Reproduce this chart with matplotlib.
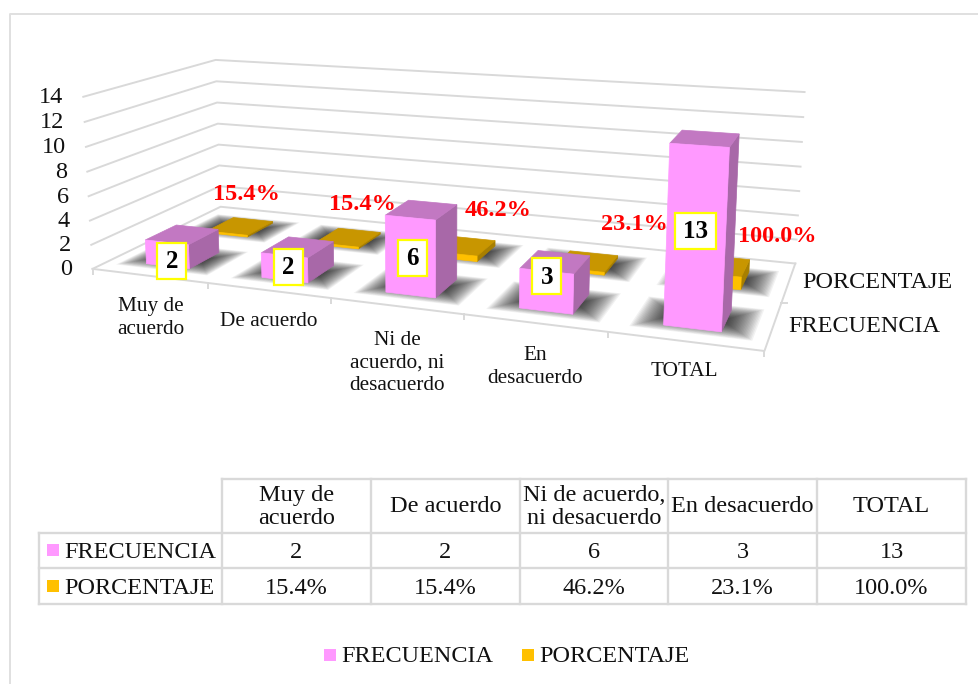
import matplotlib
matplotlib.use('Agg')
import matplotlib.pyplot as plt
from matplotlib.patches import Polygon, Rectangle
import numpy as np

categories = ['Muy de\nacuerdo', 'De acuerdo', 'Ni de\nacuerdo, ni\ndesacuerdo', 'En\ndesacuerdo', 'TOTAL']
table_heads = ['Muy de\nacuerdo', 'De acuerdo', 'Ni de acuerdo,\nni desacuerdo', 'En desacuerdo', 'TOTAL']
series_names = ['FRECUENCIA', 'PORCENTAJE']
frecuencia = [2, 2, 6, 3, 13]
porcentaje = [0.154, 0.154, 0.462, 0.231, 1.0]
y_ticks = [0, 2, 4, 6, 8, 10, 12, 14]

PINK = ['#FF99FF', '#C278C2', '#A868A8']
GOLD = ['#FFC000', '#C89600', '#A87F00']
GRID = '#D9D9D9'
INK = '#111111'
A0, A1 = 0.315, 0.695

plt.rcParams['font.family'] = ['Liberation Serif', 'DejaVu Serif']


def fit_camera():
    # projection from (category, depth, value) to image pixels
    world = [(0, 0, 0), (0, 0, 14), (0, 1, 0), (0, 1, 14), (5, 1, 0), (5, 1, 14), (5, 0, 0), (5, 0, 14)]
    image = [(95, 268), (81, 96), (218, 208), (218, 60), (797, 262), (803, 92), (763, 352), (776, 145)]
    rows = []
    for (a, b, c), (u, v) in zip(world, image):
        rows.append([a, b, c, 1, 0, 0, 0, 0, -u * a, -u * b, -u * c, -u])
        rows.append([0, 0, 0, 0, a, b, c, 1, -v * a, -v * b, -v * c, -v])
    return np.linalg.svd(np.array(rows, dtype=float))[2][-1].reshape(3, 4)


CAM = fit_camera()


def pr(a, b, c=0):
    p = CAM @ np.array([a, b, c, 1.0])
    return p[0] / p[2], p[1] / p[2]


fig = plt.figure(figsize=(9.79, 6.84), dpi=100)
ax = fig.add_axes([0, 0, 1, 1])
ax.set_xlim(0, 979)
ax.set_ylim(684, 0)
ax.axis('off')

# outer frame
ax.plot([10, 10, 979], [684, 14, 14], color='#E0E0E0', lw=1.4)

# walls and floor
for t in y_ticks:
    pts = [pr(0, 0, t), pr(0, 1, t), pr(5, 1, t)]
    ax.plot(*zip(*pts), color=GRID, lw=1.4, zorder=1)
    ax.text(pr(0, 0, t)[0] - 20, pr(0, 0, t)[1] + 1, str(t), ha='right', va='center', fontsize=17.5, color=INK)
edge = [pr(0, 0), pr(5, 0), pr(5, 1)]
ax.plot(*zip(*edge), color=GRID, lw=1.4, zorder=1)
for i in range(6):
    x, y = pr(i, 0)
    ax.plot([x, x], [y, y + 5], color=GRID, lw=1.4, zorder=1)
x, y = pr(5, 0.5)
ax.plot([x, x + 6], [y, y], color=GRID, lw=1.4, zorder=1)


def shadow(i, b0, b1):
    # soft shadow on the floor, several faint layers
    a0, a1 = i + A0, i + A1
    for k in range(22):
        g = 0.21 - 0.0095 * k
        d = 0.05 - 0.0065 * k
        quad = [pr(a0 - g, b0 - d), pr(a1 + g, b0 - d), pr(a1 + g, b1 + d), pr(a0 - g, b1 + d)]
        ax.add_patch(Polygon(quad, closed=True, fc='black', ec='none', alpha=0.05, zorder=2))


def bar(i, b0, b1, h, cols, z):
    a0, a1 = i + A0, i + A1
    front = [pr(a0, b0, 0), pr(a1, b0, 0), pr(a1, b0, h), pr(a0, b0, h)]
    side = [pr(a1, b0, 0), pr(a1, b1, 0), pr(a1, b1, h), pr(a1, b0, h)]
    top = [pr(a0, b0, h), pr(a1, b0, h), pr(a1, b1, h), pr(a0, b1, h)]
    for quad, c in zip([side, top, front], [cols[2], cols[1], cols[0]]):
        ax.add_patch(Polygon(quad, closed=True, fc=c, ec=c, lw=0.5, zorder=z))


for i, h in enumerate(porcentaje):
    shadow(i, 0.6, 0.83)
    bar(i, 0.6, 0.83, h, GOLD, 3)
for i, h in enumerate(frecuencia):
    shadow(i, 0.13, 0.36)
    bar(i, 0.13, 0.36, h, PINK, 4)

# data labels
freq_label_xy = [(172, 261), (288.5, 267), (412.5, 257.5), (547, 276), (695.5, 230.5)]
pct_label_xy = [(246, 195), (362.5, 205), (498.5, 210), (634.5, 225), (777, 236)]
for i, (x, y) in enumerate(freq_label_xy):
    w = 41 if frecuencia[i] > 9 else 29
    ax.add_patch(Rectangle((x - w / 2, y - 18), w, 36, fc='white', ec='#FFFF00', lw=1.6, zorder=6))
    ax.text(x, y + 1, str(frecuencia[i]), ha='center', va='center', fontsize=18, fontweight='bold', color='black', zorder=7)
for i, (x, y) in enumerate(pct_label_xy):
    ax.text(x, y, f'{porcentaje[i] * 100:.1f}%', ha='center', va='center', fontsize=17.5, fontweight='bold', color='#FF0000', zorder=7)

# category and series names
cat_xy = [(151, 318), (269, 322), (397, 363), (535, 367), (684, 371)]
for name, (x, y) in zip(categories, cat_xy):
    ax.text(x, y, name, ha='center', va='center', fontsize=15.3, linespacing=1.22, color=INK, zorder=7)
ax.text(802, 283, series_names[1], ha='left', va='center', fontsize=17.5, color=INK)
ax.text(788, 327, series_names[0], ha='left', va='center', fontsize=17.5, color=INK)

# data table
col_x = [39, 222, 371, 520, 668, 817, 966]
row_y = [479, 533, 568, 604]
for y in row_y[1:]:
    ax.plot([col_x[0], col_x[-1]], [y, y], color=GRID, lw=1.7)
ax.plot([col_x[1], col_x[-1]], [row_y[0], row_y[0]], color=GRID, lw=1.7)
for j, x in enumerate(col_x):
    ax.plot([x, x], [row_y[0] if j else row_y[1], row_y[-1]], color=GRID, lw=1.7)
for j, head in enumerate(table_heads):
    xc = (col_x[j + 1] + col_x[j + 2]) / 2
    ax.text(xc, 507, head, ha='center', va='center', fontsize=17.5, linespacing=1.12, color=INK)
    ax.text(xc, 553, str(frecuencia[j]), ha='center', va='center', fontsize=17.5, color=INK)
    ax.text(xc, 589, f'{porcentaje[j] * 100:.1f}%', ha='center', va='center', fontsize=17.5, color=INK)
for name, y, c in zip(series_names, [550, 586], [PINK[0], GOLD[0]]):
    ax.add_patch(Rectangle((47, y - 6), 12, 12, fc=c, ec='none'))
    ax.text(64, y + 2, name, ha='left', va='center', fontsize=17.5, color=INK)

# legend
for name, x, c in zip(series_names, [324, 522], [PINK[0], GOLD[0]]):
    ax.add_patch(Rectangle((x, 649), 12, 12, fc=c, ec='none'))
    ax.text(x + 17, 657, name, ha='left', va='center', fontsize=17.5, color=INK)

fig.savefig('out.png', dpi=100)
